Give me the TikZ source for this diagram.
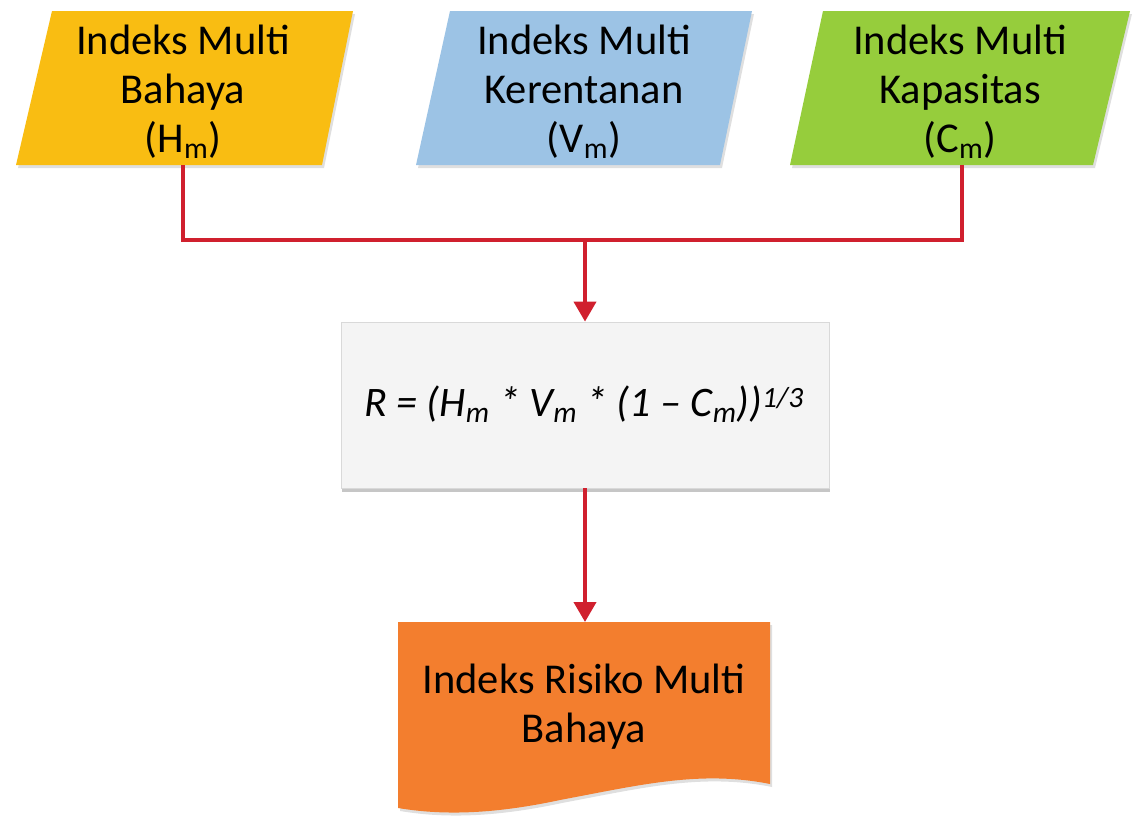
\documentclass[tikz,border=0pt]{standalone}
\usepackage{fontspec}
\setmainfont{Carlito}
\usetikzlibrary{arrows.meta,shadows}
\definecolor{cyellow}{HTML}{F9BD12}
\definecolor{cblue}{HTML}{9CC3E5}
\definecolor{cgreen}{HTML}{96CD3C}
\definecolor{corange}{HTML}{F37E2E}
\definecolor{cred}{HTML}{D0202E}
\definecolor{cbox}{HTML}{F4F4F4}
\tikzset{
  shapefill/.style={draw=none, drop shadow={shadow xshift=2pt, shadow yshift=-3pt, opacity=0.25}},
  label/.style={align=center, font=\fontsize{42.5}{49}\selectfont, inner sep=0pt},
  conn/.style={draw=cred, line width=4pt},
  arr/.style={conn, -{Triangle[width=22pt,length=20pt]}},
}
\begin{document}
\begin{tikzpicture}[x=1pt,y=-1pt]
\useasboundingbox (0,0) rectangle (1138,819);
% parallelograms
\fill[cyellow, shapefill] (52,11) -- (353,11) -- (322,165) -- (16,165) -- cycle;
\fill[cblue, shapefill] (450,11) -- (752,11) -- (720,165) -- (416,165) -- cycle;
\fill[cgreen, shapefill] (823,11) -- (1130,11) -- (1093,165) -- (790,165) -- cycle;
\node[label] (h) at (183,92) {Indeks Multi\\Bahaya\\(H\textsubscript{m})};
\node[label] (v) at (584,92) {Indeks Multi\\Kerentanan\\(V\textsubscript{m})};
\node[label] (c) at (960,92) {Indeks Multi\\Kapasitas\\(C\textsubscript{m})};
\coordinate (hb) at (183,165);
\coordinate (cb) at (962,165);
\coordinate (j) at (585,240);
% formula box
\node[draw=white!85!black, line width=0.8pt, fill=cbox, minimum width=488pt, minimum height=166pt,
      drop shadow={shadow xshift=1pt, shadow yshift=-4pt, opacity=0.45}, inner sep=0pt]
      (f) at (585,405) {};
\node[font=\fontsize{42}{48}\selectfont\itshape, inner sep=0pt] (ft) at (584,404)
  {R = (H\textsubscript{m} * V\textsubscript{m} * (1 – C\textsubscript{m}))\textsuperscript{1/3}};
% document shape
\fill[corange, shapefill] (398,622) -- (770,622) -- (770,784)
  .. controls (700,770) and (640,785) .. (560,800)
  .. controls (490,815) and (440,815) .. (398,808) -- cycle;
\node[label] (r) at (584,707) {Indeks Risiko Multi\\Bahaya};
\coordinate (rt) at (585,622);
% connectors
\draw[conn] (hb) |- (j) -| (cb);
\draw[arr] (j) -- (f.north);
\draw[arr] (f.south) -- (rt);
\end{tikzpicture}
\end{document}
